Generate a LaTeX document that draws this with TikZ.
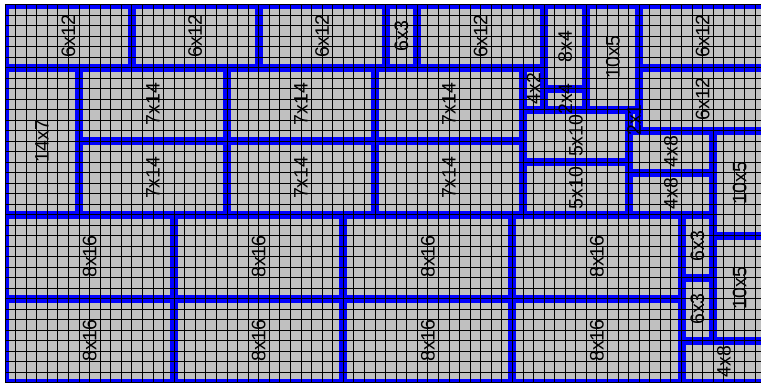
\documentclass[tikz,border=0pt]{standalone}
\usepackage{fontspec}
\setmainfont{Liberation Sans}
\definecolor{boardgray}{RGB}{192,192,192}
% x/y/width/height of every piece, in grid cells
\newcommand\piecelist{0/0/12/6, 12/0/12/6, 24/0/12/6, 36/0/3/6, 39/0/12/6, 51/0/4/8, 55/0/5/10, 60/0/12/6,
  60/6/12/6, 0/6/7/14, 7/6/14/7, 21/6/14/7, 35/6/14/7, 7/13/14/7, 21/13/14/7, 35/13/14/7,
  49/6/2/4, 51/8/4/2, 49/10/10/5, 49/15/10/5, 59/10/1/2, 59/12/8/4, 59/16/8/4,
  67/12/5/10, 67/22/5/10, 64/20/3/6, 64/26/3/6, 64/32/8/4,
  0/20/16/8, 16/20/16/8, 32/20/16/8, 48/20/16/8, 0/28/16/8, 16/28/16/8, 32/28/16/8, 48/28/16/8}
\begin{document}
\begin{tikzpicture}[x=10.57pt,y=-10.5pt]
  \useasboundingbox (-0.47,-0.43) rectangle (71.52,36.24);
  \clip (-0.47,-0.43) rectangle (71.52,36.24);
  \fill[white] (-0.47,-0.43) rectangle (71.52,36.24);
  \fill[boardgray] (0,0) rectangle (72,36);
  \foreach \x/\y/\w/\h in \piecelist
    \draw[blue,line width=4pt] (\x+0.19,\y+0.19) rectangle (\x+\w-0.19,\y+\h-0.19);
  \foreach \i in {0,...,72} \draw[line width=0.9pt] (\i,0) -- (\i,36);
  \foreach \j in {0,...,36} \draw[line width=0.9pt] (0,\j) -- (72,\j);
  \foreach \x/\y/\w/\h in \piecelist
    \node[rotate=90,font=\fontsize{19.5}{20}\selectfont] (l\x-\y) at (\x+\w/2,\y+\h/2) {\h x\w};
\end{tikzpicture}
\end{document}
